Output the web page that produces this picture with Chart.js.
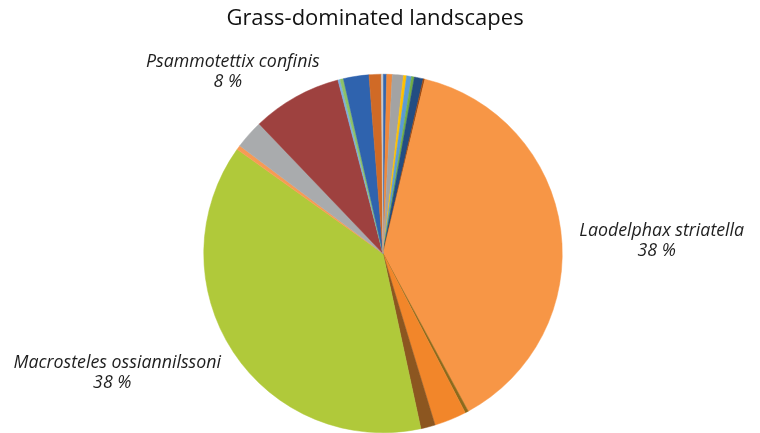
<!DOCTYPE html>
<html>
<head>
<meta charset="utf-8">
<script src="https://cdn.jsdelivr.net/npm/chart.js@4"></script>
<style>
  html, body { margin: 0; padding: 0; background: #fff; overflow: hidden; }
  #wrap { width: 760px; height: 433px; }
</style>
</head>
<body>
<div id="wrap"><canvas id="chart"></canvas></div>
<script>
const chartTitle = 'Grass-dominated landscapes';
// species, clockwise from 12 o'clock
const species = [
  'Species 1', 'Species 2', 'Species 3', 'Species 4', 'Species 5', 'Species 6',
  'Species 7', 'Species 8', 'Laodelphax striatella', 'Species 10', 'Species 11',
  'Species 12', 'Macrosteles ossiannilssoni', 'Species 14', 'Species 15',
  'Psammotettix confinis', 'Species 17', 'Species 18', 'Species 19', 'Species 20',
  'Species 21'
];
// share of individuals (%)
const shares = [
  0.33, 0.5, 1.0, 0.28, 0.45, 0.25, 0.8, 0.15, 38.4, 0.3, 2.9,
  1.3, 38.3, 0.4, 2.6, 8.1, 0.2, 0.3, 2.3, 1.1, 0.15
];
const sliceColors = [
  '#3466AE', '#F0883A', '#A3A3A3', '#FFC000', '#5B9BD5', '#70AD47',
  '#234D82', '#9E480E', '#F79646', '#8C6A1C', '#F2862A',
  '#8C5620', '#B0C93A', '#F79A55', '#A9ABAD', '#9E413F', '#7CAFDD',
  '#8CC168', '#2F63AE', '#D06A26', '#C9C9C9'
];

// where the text block sits relative to the slice's outer edge
const labelOffsets = {
  'Laodelphax striatella': [101, 11],
  'Macrosteles ossiannilssoni': [-116, 21],
  'Psammotettix confinis': [-63, -25]
};

const sliceLabels = {
  id: 'sliceLabels',
  afterDatasetsDraw(chart) {
    const ctx = chart.ctx;
    const meta = chart.getDatasetMeta(0);
    const values = chart.data.datasets[0].data;
    const total = values.reduce((a, b) => a + b, 0);
    ctx.save();
    ctx.textAlign = 'center';
    ctx.textBaseline = 'middle';

    // title (drawn here so it can sit a little left of the pie centre)
    ctx.fillStyle = '#111';
    ctx.font = '22px "Open Sans", sans-serif';
    ctx.fillText(chartTitle, 375, 19);

    ctx.font = 'italic 17.8px "Open Sans", sans-serif';
    ctx.fillStyle = '#1e1e1e';
    meta.data.forEach((arc, i) => {
      const pct = values[i] / total * 100;
      if (pct < 5) return;
      const p = arc.getProps(['x', 'y', 'startAngle', 'endAngle', 'outerRadius'], true);
      const mid = (p.startAngle + p.endAngle) / 2;
      const ex = p.x + Math.cos(mid) * p.outerRadius;
      const ey = p.y + Math.sin(mid) * p.outerRadius;
      const off = labelOffsets[chart.data.labels[i]] || [0, 0];
      const cx = ex + off[0];
      const cy = ey + off[1];
      ctx.fillText(chart.data.labels[i], cx, cy - 10);
      ctx.fillText(Math.round(pct) + ' %', cx - 5, cy + 10);
    });
    ctx.restore();
  }
};

new Chart(document.getElementById('chart'), {
  type: 'pie',
  data: {
    labels: species,
    datasets: [{
      data: shares,
      backgroundColor: sliceColors,
      borderColor: sliceColors,
      borderWidth: 0.5
    }]
  },
  options: {
    responsive: true,
    maintainAspectRatio: false,
    animation: false,
    layout: { padding: { left: 200, right: 194, top: 74, bottom: 0 } },
    plugins: {
      legend: { display: false },
      tooltip: { enabled: false },
      title: { display: false }
    }
  },
  plugins: [sliceLabels]
});
</script>
</body>
</html>
